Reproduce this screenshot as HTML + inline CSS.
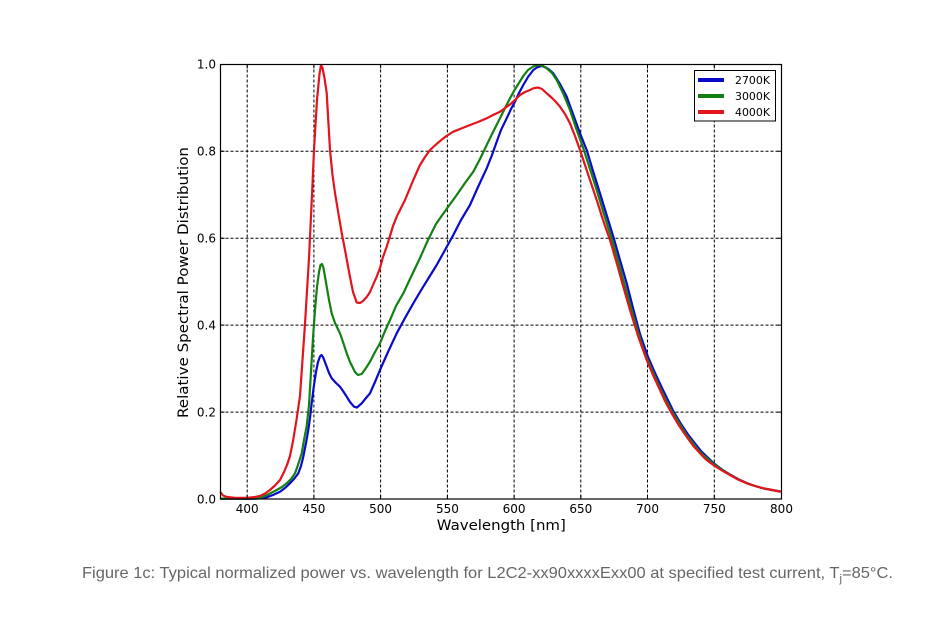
<!DOCTYPE html>
<html><head><meta charset="utf-8"><style>
html,body{margin:0;padding:0;background:#fff;}
svg{display:block;}
</style></head><body>
<svg width="938" height="617" viewBox="0 0 938 617" xmlns="http://www.w3.org/2000/svg">
<rect width="938" height="617" fill="#fff"/>
<!-- grid -->
<g stroke="#000" stroke-width="1" stroke-dasharray="3,2" fill="none">
<line x1="247.2" y1="64.5" x2="247.2" y2="499"/>
<line x1="313.9" y1="64.5" x2="313.9" y2="499"/>
<line x1="380.6" y1="64.5" x2="380.6" y2="499"/>
<line x1="447.4" y1="64.5" x2="447.4" y2="499"/>
<line x1="514.1" y1="64.5" x2="514.1" y2="499"/>
<line x1="580.8" y1="64.5" x2="580.8" y2="499"/>
<line x1="647.5" y1="64.5" x2="647.5" y2="499"/>
<line x1="714.3" y1="64.5" x2="714.3" y2="499"/>
<line x1="220.5" y1="412.1" x2="781.5" y2="412.1"/>
<line x1="220.5" y1="325.1" x2="781.5" y2="325.1"/>
<line x1="220.5" y1="238.2" x2="781.5" y2="238.2"/>
<line x1="220.5" y1="151.2" x2="781.5" y2="151.2"/>
</g>
<!-- curves -->
<g fill="none" stroke-width="2.2" stroke-linejoin="round" stroke-linecap="round">
<polyline stroke="#0a0acc" points="221,498.6 235,498.7 250,498.8 256,498.6 266.7,497.3 273,495 280,491.7 285,488 290,483.3 294,479 298.3,473.3 301,466 303.3,456.7 306,443 308.3,430 310,418 311.7,403 314,385 316,372 318,362 320,356.5 321.5,355 323,357 326.7,366.7 329,373 331.7,378.3 336,383 340,386.7 343,391 346.7,396.7 350,402 354,406.7 357,407.5 361.7,403.3 366,398 370,393.3 375,382 380,370 388,352 396.7,333.3 405,318 413.3,303.3 420,292 428,279 436.7,265 445,250 453.3,235 461,220 470,205 478,187 486.7,168.3 492,155 496.7,141.7 501,130 506.7,118.3 511,109 515,101.7 519,93 523.3,85 528,77 533.3,70 537,67.5 541.7,66 546,67.5 549,69.5 553.3,73.3 560,84 566.7,96.7 573,114 580,133.3 586.7,150 593,171 600,193.3 606,213 613.3,236.7 620,260 626.7,283.3 633,308 640,334 648,357 655,373 662,388 673,410.5 681,424 688,434.5 701,451 714,463.5 722,469.5 730,474.5 738,479 746.7,483 755,486 763.3,488.3 772,490 780,491.5"/>
<polyline stroke="#138013" points="221,498.6 235,498.7 245,498.8 250,498.6 257,498 263.3,496.7 270,493.5 276.7,490 282,487 286.7,483.3 291,479 295,473.3 298,465 301.7,453.3 304,440 306.7,426 309,405 311,372 313,338 315,310 317,287 319,272 320.5,265 322,264 323.5,268 326.7,286.7 329,300 331.7,313.3 335,323 340,333.3 343,342 346.7,353.3 350,362 355,372 358,375 361.7,374 366,368 370,361.7 375,352 380,343.3 385,331 390,320 396,306 403.3,293.3 410,279 420,258 428,240 436,224 440,218.3 448,207 456.7,195 465,183 473.3,171.7 480,159 486.7,145 493,132 500,118.3 505,108 510,98.3 514,91 518.3,84 523.3,76 528,70 533.3,66.5 538.3,65 542,65.5 546.7,68.3 552,73 556.7,80 563,93 570,110 576,128 583.3,148.3 590,169 596.7,190 603,211 610,233.3 617,257 623.3,280 630,304 638.3,333 645,354 652,370 660,388 666,400 672,411.5 680,424.5 687,435.5 700,452 713.5,464 722,469.8 730,474.7 738,479.2 746.7,483.2 755,486 763.3,488.3 772,490 780,491.5"/>
<polyline stroke="#e3141c" points="220.7,492.5 223,495.5 227,497 235,497.8 247,497.8 255,497 260,496 265,493.5 270,490 275,485.5 280,480 284,472 287,465 290,456 293,441 296.5,420 300,396 305,324 309,258 312,195 314,150 317,100 319.5,74 321,65 322.5,68 324.5,78 326.7,93 330,150 332.5,175 335,193 338,211 341.7,233 345,250 350,277 353,292 356.7,302.5 360,303 363,301 366.7,297 370,292 373,285 376.7,276.7 380,268 383,257 386.7,246.7 390,236 393,226 396.7,216.7 400,210 405,200 410,188 413.3,180 420,165 425,157 430,150 436,144.5 443.3,138.3 448,135 453.3,131.7 460,129 465,127 470,125 478,122 486.7,118.3 493,115 500,111.7 505,108 510,104.5 515,100 520,95 525,92 530,90 533.3,88.3 538,87.5 542,89 546.7,93.3 552,98 556,102 560,106.7 565,114 570,123.3 575,136 580,150 585,165 590,180 596.7,200 603,220 610,240 617,264 623.3,286.7 630,310 638.3,336.7 646.7,360 653,375 660,390 665,401 671.7,413.3 679,425.5 686.7,436.7 693,445.5 700,453.3 706,459.5 713.3,465 722,470.5 730,475 738,479.5 746.7,483.3 755,486 763.3,488.3 772,490 780,491.5"/>
</g>
<!-- ticks -->
<g stroke="#000" stroke-width="1">
<path d="M247.2,499v-4M313.9,499v-4M380.6,499v-4M447.4,499v-4M514.1,499v-4M580.8,499v-4M647.5,499v-4M714.3,499v-4M247.2,64.5v4M313.9,64.5v4M380.6,64.5v4M447.4,64.5v4M514.1,64.5v4M580.8,64.5v4M647.5,64.5v4M714.3,64.5v4M220.5,412.1h4M220.5,325.1h4M220.5,238.2h4M220.5,151.2h4M781.5,412.1h-4M781.5,325.1h-4M781.5,238.2h-4M781.5,151.2h-4"/>
</g>
<!-- frame -->
<rect x="220.5" y="64.5" width="561" height="434.5" fill="none" stroke="#000" stroke-width="1.2"/>
<!-- tick labels -->
<g font-family="'DejaVu Sans','Liberation Sans',sans-serif" font-size="12" fill="#000">
<g text-anchor="middle">
<text x="247.2" y="513">400</text>
<text x="313.9" y="513">450</text>
<text x="380.6" y="513">500</text>
<text x="447.4" y="513">550</text>
<text x="514.1" y="513">600</text>
<text x="580.8" y="513">650</text>
<text x="647.5" y="513">700</text>
<text x="714.3" y="513">750</text>
<text x="781.5" y="513">800</text>
</g>
<g text-anchor="end">
<text x="216" y="503.3">0.0</text>
<text x="216" y="416.4">0.2</text>
<text x="216" y="329.4">0.4</text>
<text x="216" y="242.5">0.6</text>
<text x="216" y="155.5">0.8</text>
<text x="216" y="68.6">1.0</text>
</g>
</g>
<!-- axis labels -->
<text x="501.3" y="530" text-anchor="middle" font-family="'DejaVu Sans','Liberation Sans',sans-serif" font-size="14" textLength="129" lengthAdjust="spacingAndGlyphs">Wavelength [nm]</text>
<text transform="translate(188,282.5) rotate(-90)" text-anchor="middle" font-family="'DejaVu Sans','Liberation Sans',sans-serif" font-size="14" textLength="271" lengthAdjust="spacingAndGlyphs">Relative Spectral Power Distribution</text>
<!-- legend -->
<rect x="694.5" y="70.5" width="81" height="50.5" fill="#fff" stroke="#000" stroke-width="1"/>
<g stroke-width="4">
<line x1="698" y1="80" x2="724" y2="80" stroke="#0a0acc"/>
<line x1="698" y1="96" x2="724" y2="96" stroke="#138013"/>
<line x1="698" y1="112" x2="724" y2="112" stroke="#e3141c"/>
</g>
<g font-family="'DejaVu Sans','Liberation Sans',sans-serif" font-size="11" fill="#000">
<text x="735" y="84" textLength="35" lengthAdjust="spacingAndGlyphs">2700K</text>
<text x="735" y="100" textLength="35" lengthAdjust="spacingAndGlyphs">3000K</text>
<text x="735" y="116" textLength="35" lengthAdjust="spacingAndGlyphs">4000K</text>
</g>
<!-- caption -->
<text x="82" y="578" font-family="'Liberation Sans',sans-serif" font-size="16" fill="#666" textLength="811" lengthAdjust="spacingAndGlyphs">Figure 1c: Typical normalized power vs. wavelength for L2C2-xx90xxxxExx00 at specified test current, T<tspan font-size="11" dy="4">j</tspan><tspan font-size="16" dy="-4">=85°C.</tspan></text>
</svg>
</body></html>
